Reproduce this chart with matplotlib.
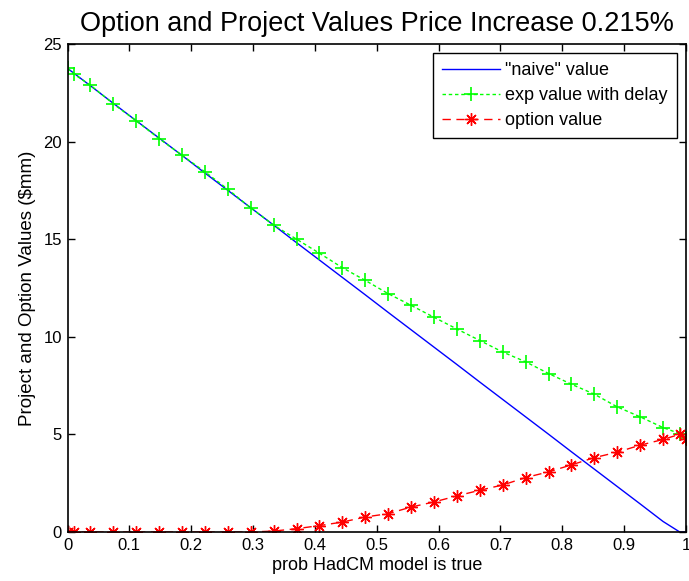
import matplotlib
matplotlib.use("Agg")
import matplotlib.pyplot as plt
from matplotlib.ticker import FixedLocator, FixedFormatter

plt.rcParams['font.family'] = ['Liberation Sans', 'DejaVu Sans']

# data
prob = [0, 0.01] + [k / 27 for k in range(1, 27)] + [0.99, 1.0]
naive_value = [23.75, 23.51, 22.86, 21.96, 21.07, 20.18, 19.29, 18.39, 17.50, 16.61,
               15.72, 14.82, 13.93, 13.04, 12.15, 11.25, 10.36, 9.47, 8.58, 7.68,
               6.79, 5.90, 5.01, 4.11, 3.22, 2.33, 1.44, 0.54, 0.0, 0.0]
exp_value_delay = [23.75, 23.46, 22.89, 21.93, 21.06, 20.15, 19.30, 18.45, 17.56, 16.60,
                   15.72, 15.00, 14.28, 13.54, 12.89, 12.21, 11.61, 11.00, 10.40, 9.81,
                   9.22, 8.72, 8.12, 7.57, 7.06, 6.41, 5.90, 5.35, 5.04, 4.84]
option_value = [0, 0, 0, 0, 0, 0, 0, 0, 0, 0,
                0.05, 0.17, 0.33, 0.51, 0.77, 0.94, 1.28, 1.54, 1.85, 2.14,
                2.41, 2.79, 3.08, 3.44, 3.81, 4.09, 4.45, 4.74, 5.01, 4.74]
x_ticks = [0, 0.1, 0.2, 0.3, 0.4, 0.5, 0.6, 0.7, 0.8, 0.9, 1]
x_tick_labels = ['0', '0.1', '0.2', '0.3', '0.4', '0.5', '0.6', '0.7', '0.8', '0.9', '1']
y_ticks = [0, 5, 10, 15, 20, 25]
y_tick_labels = ['0', '5', '10', '15', '20', '25']

fig = plt.figure(figsize=(6.89, 5.81), dpi=100)
ax = fig.add_axes([0.098, 0.0843, 0.8976, 0.840])

ax.plot(prob, naive_value, color=(0, 0, 1), lw=1.0, label='"naive" value')
ax.plot(prob, exp_value_delay, color=(0, 1, 0), lw=1.0, linestyle=(0, (2.5, 2)),
        marker='+', markersize=10, markeredgewidth=1.2, label='exp value with delay')
ax.plot(prob, option_value, color=(1, 0, 0), lw=1.0, linestyle=(0, (6, 4)),
        marker=(8, 2, 0), markersize=9, markeredgewidth=1.0, label='option value')

ax.set_xlim(0, 1)
ax.set_ylim(0, 25)
ax.xaxis.set_major_locator(FixedLocator(x_ticks))
ax.xaxis.set_major_formatter(FixedFormatter(x_tick_labels))
ax.yaxis.set_major_locator(FixedLocator(y_ticks))
ax.yaxis.set_major_formatter(FixedFormatter(y_tick_labels))
ax.tick_params(direction='in', top=True, right=True, length=5, width=1,
               labelsize=12, pad=4)
for s in ax.spines.values():
    s.set_linewidth(1.2)

ax.set_title('Option and Project Values Price Increase 0.215%', fontsize=19.5, pad=9)
ax.set_xlabel('prob HadCM model is true', fontsize=13, labelpad=3)
ax.set_ylabel(r'Project and Option Values (\$mm)', fontsize=13.5, labelpad=5)

leg = ax.legend(loc='upper right', fontsize=13, fancybox=False, framealpha=1,
                edgecolor='black', handlelength=3.2, borderaxespad=0.5,
                labelspacing=0.45, handletextpad=0.3, borderpad=0.5)
leg.get_frame().set_linewidth(1.0)

fig.savefig('out.png', dpi=100)
